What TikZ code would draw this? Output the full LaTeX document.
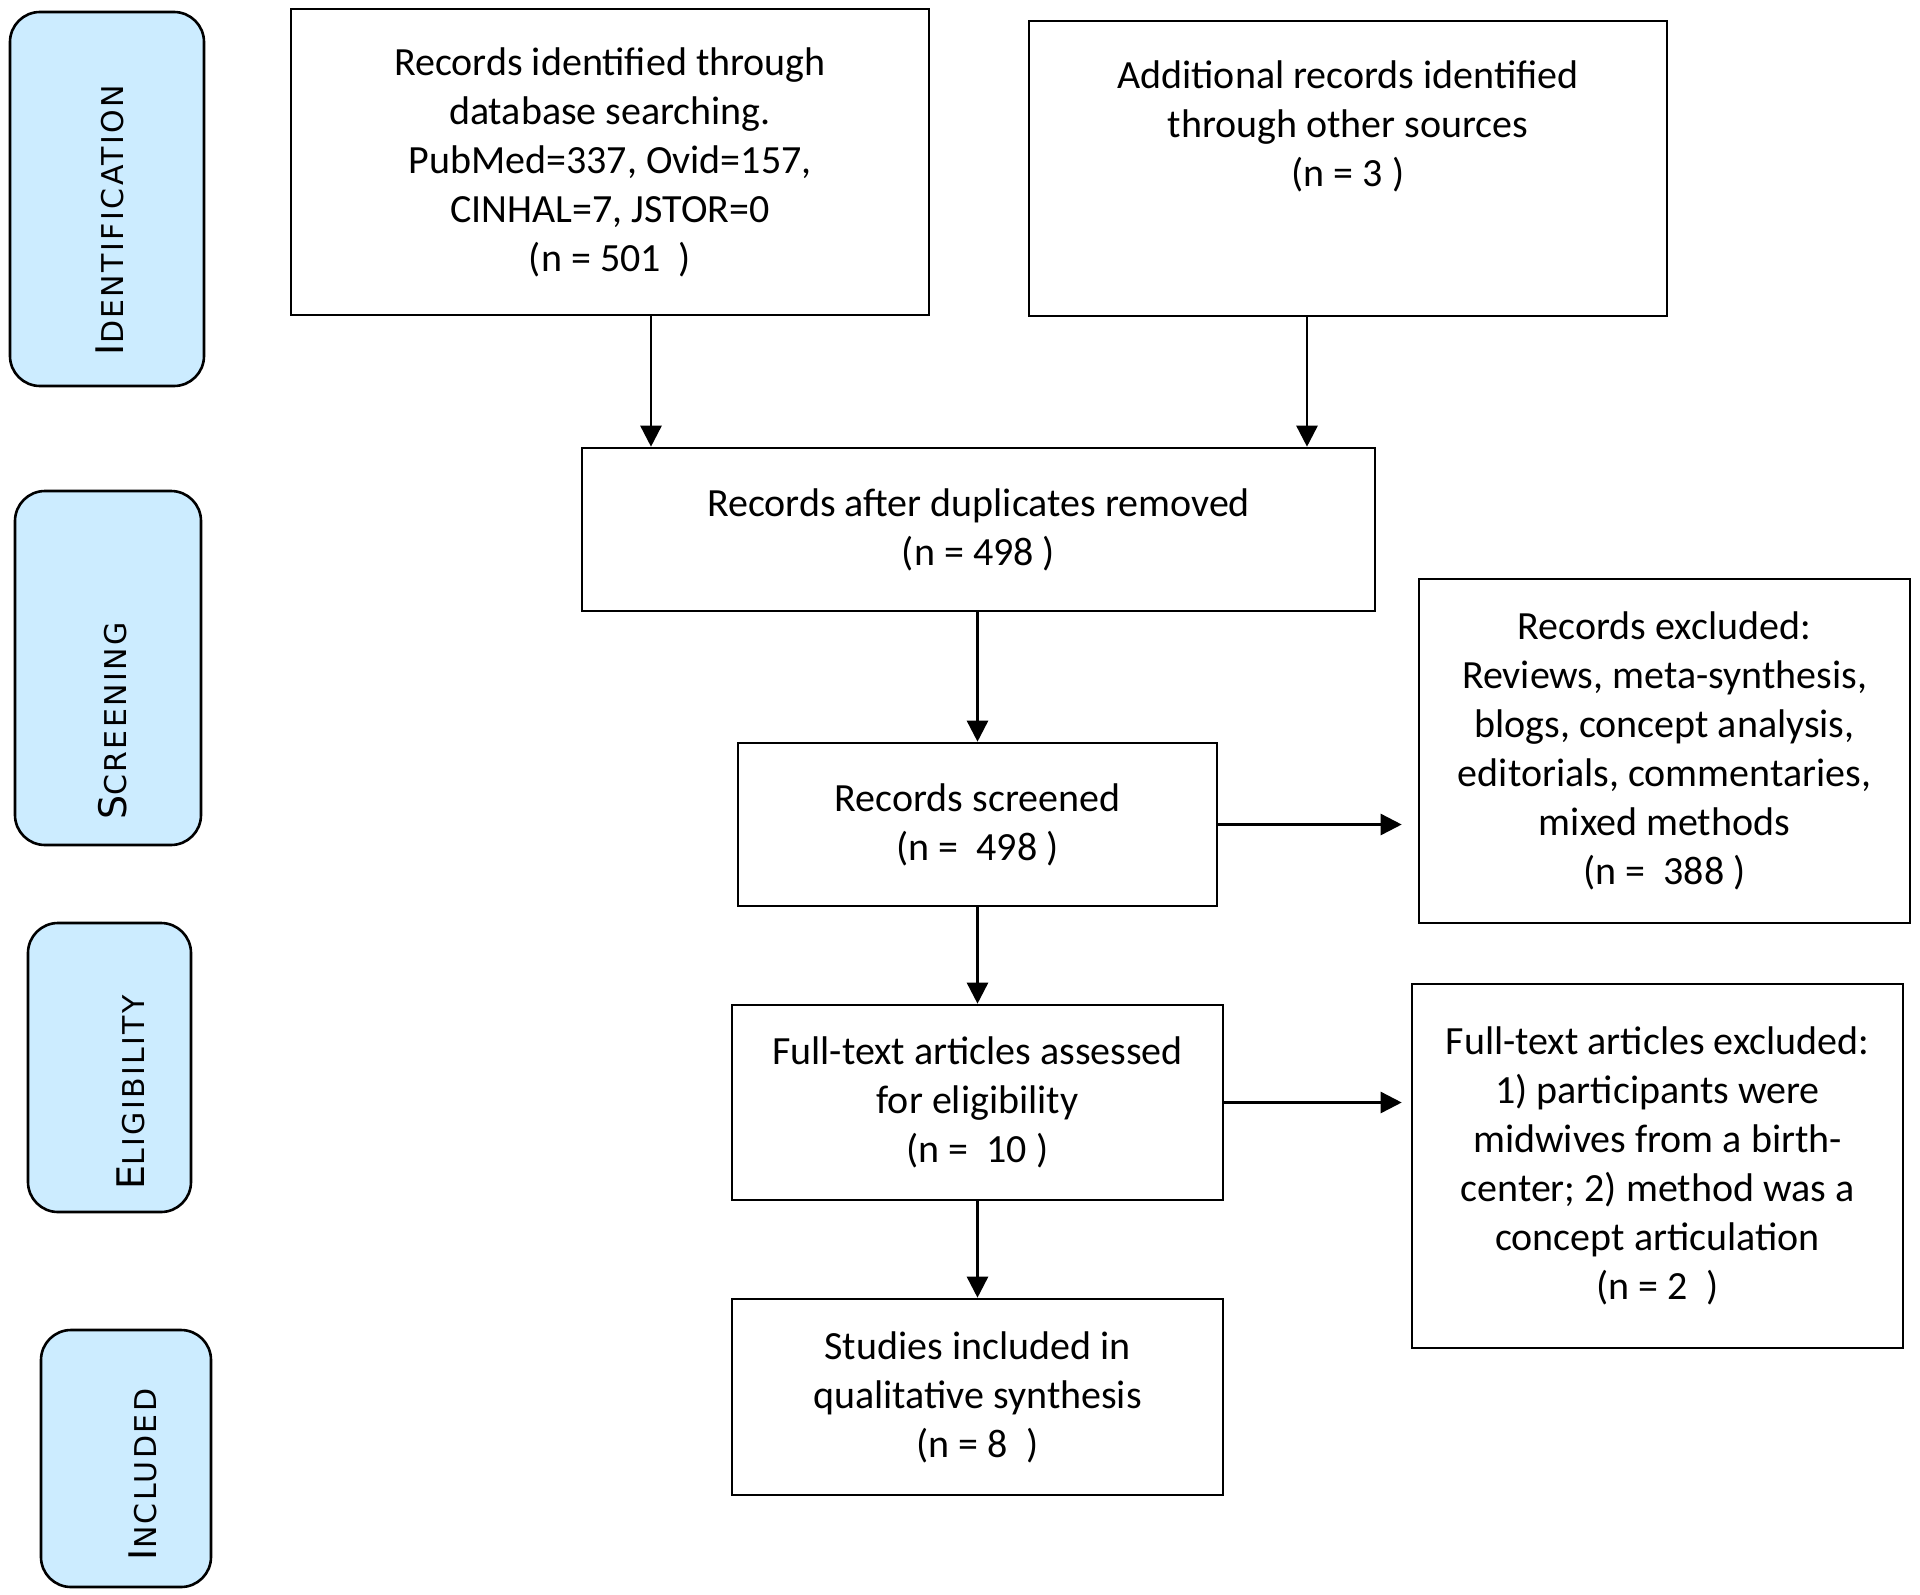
\documentclass[tikz,border=0pt]{standalone}
\usepackage{fontspec}
\setmainfont{Carlito}
\newfontfamily\phasefont[LetterSpace=8]{DejaVu Sans}
\usetikzlibrary{arrows.meta}
\definecolor{phaseblue}{RGB}{204,236,255}
\newcommand\phasename[2]{{\fontsize{38}{38}\selectfont #1}{\fontsize{30}{30}\selectfont #2}}

\begin{document}
\begin{tikzpicture}[x=1pt, y=-1pt,
  flow/.style={draw, line width=2.6pt, inner sep=0pt, align=center, font=\fontsize{40}{49}\selectfont},
  phase/.style={draw, line width=2.6pt, fill=phaseblue, rounded corners=30pt, rotate=90, inner sep=0pt, text depth=0pt, font=\phasefont},
  arr/.style={-{Triangle[length=21pt,width=21pt]}, line width=2.6pt}]
\useasboundingbox (0,0) rectangle (1920,1595);

% phases down the left side
\node[phase, minimum width=374pt, minimum height=194pt, text height=33pt] (ident) at (107,199) {\phasename{I}{DENTIFICATION}\hspace*{42pt}};
\node[phase, minimum width=354pt, minimum height=186pt, text height=37pt] (screen) at (108,668) {\phasename{S}{CREENING}\hspace*{106pt}};
\node[phase, minimum width=289pt, minimum height=163pt, text height=69pt] (elig) at (109.5,1067.5) {\phasename{E}{LIGIBILITY}\hspace*{50pt}};
\node[phase, minimum width=257pt, minimum height=170pt, text height=61pt] (incl) at (126,1458.5) {\phasename{I}{NCLUDED}\hspace*{32pt}};

% flow boxes
\node[flow, minimum width=638pt, minimum height=306pt] (db) at (610,162) {Records identified through\\database searching.\\PubMed=337, Ovid=157,\\CINHAL=7, JSTOR=0\\(n = 501~ )};
\node[flow, minimum width=638pt, minimum height=295pt] (other) at (1348,168.5) {Additional records identified\\through other sources\\(n = 3 )\\[40pt]~};
\node[flow, minimum width=793pt, minimum height=163pt] (dup) at (978.5,529.5) {Records after duplicates removed\\(n = 498 )};
\node[flow, minimum width=479pt, minimum height=163pt] (scr) at (977.5,824.5) {Records screened\\(n =~ 498 )};
\node[flow, minimum width=491pt, minimum height=344pt] (exrec) at (1664.5,751) {Records excluded:\\Reviews, meta-synthesis,\\blogs, concept analysis,\\editorials, commentaries,\\mixed methods\\(n =~ 388 )};
\node[flow, minimum width=491pt, minimum height=195pt] (full) at (977.5,1102.5) {Full-text articles assessed\\for eligibility\\(n =~ 10 )};
\node[flow, minimum width=491pt, minimum height=364pt] (exfull) at (1657.5,1166) {Full-text articles excluded:\\1) participants were\\midwives from a birth-\\center; 2) method was a\\concept articulation\\(n = 2~ )};
\node[flow, minimum width=491pt, minimum height=196pt] (studies) at (977.5,1397) {Studies included in\\qualitative synthesis\\(n = 8~ )};

% arrows
\draw[arr] ([xshift=41pt]db.south) -- ([xshift=41pt]db.south |- dup.north);
\draw[arr] ([xshift=-41pt]other.south) -- ([xshift=-41pt]other.south |- dup.north);
\draw[arr] (dup.south -| scr.north) -- (scr.north);
\draw[arr] (scr) -- (full);
\draw[arr] (full) -- (studies);
\draw[arr, shorten >=16pt] (scr.east) -- (scr.east -| exrec.west);
\draw[arr, shorten >=9pt] (full.east) -- (full.east -| exfull.west);
\end{tikzpicture}
\end{document}
